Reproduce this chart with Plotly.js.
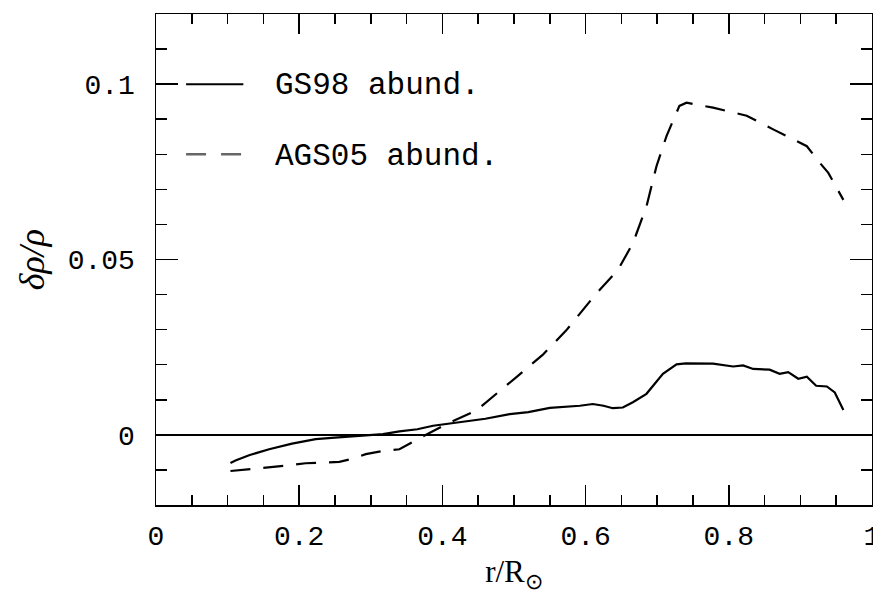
<!DOCTYPE html>
<html><head><meta charset="utf-8">
<script src="https://cdn.plot.ly/plotly-3.0.1.min.js"></script>
<style>html,body{margin:0;padding:0;background:#fff}#chart{width:873px;height:597px}</style>
</head><body><div id="chart"></div>
<script>
const gs98_r = [0.104,0.111,0.130,0.149,0.158,0.190,0.223,0.250,0.270,0.293,0.317,0.340,0.365,0.387,0.410,0.433,0.460,0.494,0.520,0.550,0.570,0.592,0.610,0.625,0.638,0.652,0.666,0.685,0.708,0.727,0.740,0.750,0.778,0.806,0.820,0.834,0.857,0.871,0.883,0.897,0.909,0.922,0.937,0.948,0.960];
const gs98_d = [-0.0080,-0.0073,-0.0058,-0.0046,-0.0041,-0.0025,-0.0012,-0.0008,-0.0005,-0.0003,0.0002,0.0010,0.0016,0.0026,0.0032,0.0038,0.0046,0.0059,0.0065,0.0077,0.0080,0.0083,0.0088,0.0083,0.0076,0.0078,0.0093,0.0117,0.0174,0.0201,0.0204,0.0204,0.0203,0.0195,0.0198,0.0188,0.0186,0.0174,0.0179,0.0160,0.0166,0.0140,0.0138,0.0121,0.0071];
const ags05_r = [0.104,0.120,0.140,0.162,0.185,0.209,0.235,0.256,0.275,0.293,0.316,0.340,0.363,0.387,0.410,0.447,0.484,0.503,0.540,0.573,0.615,0.645,0.666,0.685,0.699,0.713,0.731,0.741,0.778,0.825,0.862,0.909,0.927,0.939,0.960];
const ags05_d = [-0.0103,-0.0100,-0.0096,-0.0092,-0.0087,-0.0081,-0.0079,-0.0077,-0.0068,-0.0055,-0.0046,-0.0041,-0.0015,0.0011,0.0035,0.0069,0.0131,0.0164,0.0228,0.0298,0.0403,0.0470,0.0546,0.0651,0.0766,0.0852,0.0938,0.0947,0.0933,0.0910,0.0871,0.0823,0.0776,0.0747,0.0670];
const seriesNames = ["GS98 abund.","AGS05 abund."];
const xTickVals = [0,0.2,0.4,0.6,0.8,1];
const xTickText = ["0","0.2","0.4","0.6","0.8","1"];
const yTickVals = [0,0.05,0.1];
const yTickText = ["0","0.05","0.1"];

const mono = "Liberation Mono, Courier New, monospace";
const traces = [
  {x: gs98_r, y: gs98_d, mode:"lines", name: seriesNames[0], line:{color:"#000", width:2.2}, showlegend:false},
  {x: ags05_r, y: ags05_d, mode:"lines", name: seriesNames[1], line:{color:"#000", width:2.2, dash:"20px,13px"}, showlegend:false}
];
const layout = {
  width:873, height:597,
  margin:{l:156, r:1, t:14, b:92},
  paper_bgcolor:"#fff", plot_bgcolor:"#fff",
  xaxis:{range:[0,1], tickmode:"array", tickvals:xTickVals, ticktext:xTickText,
    ticks:"inside", ticklen:20, tickwidth:1.5, tickcolor:"#000", mirror:"allticks",
    showline:true, linecolor:"#000", linewidth:1.5, showgrid:false, zeroline:false,
    ticklabeloverflow:"allow",
    minor:{dtick:0.05, ticks:"inside", ticklen:10, tickwidth:1.5, tickcolor:"#000", showgrid:false},
    tickfont:{family:mono, size:28, color:"#000"}, ticklabelstandoff:5,
    title:{text:"r/R<sub>⊙</sub>", font:{family:"Liberation Serif, serif", size:31, color:"#000"}, standoff:8}},
  yaxis:{range:[-0.02,0.12], tickmode:"array", tickvals:yTickVals, ticktext:yTickText,
    ticks:"inside", ticklen:22, tickwidth:1.5, tickcolor:"#000", mirror:"allticks",
    showline:true, linecolor:"#000", linewidth:1.5, showgrid:false,
    zeroline:true, zerolinecolor:"#000", zerolinewidth:1.5,
    minor:{dtick:0.01, ticks:"inside", ticklen:11, tickwidth:1.5, tickcolor:"#000", showgrid:false},
    tickfont:{family:mono, size:28, color:"#000"}, ticklabelstandoff:14,
    title:{text:"<i>δρ/ρ</i>", font:{family:"Liberation Serif, serif", size:36, color:"#000"}, standoff:12}},
  shapes:[
    {type:"line", xref:"paper", yref:"y", x0:0.042, x1:0.122, y0:0.1, y1:0.1, line:{color:"#000", width:2}},
    {type:"line", xref:"paper", yref:"y", x0:0.042, x1:0.122, y0:0.08, y1:0.08, line:{color:"#666", width:2.5, dash:"20px,15px"}}
  ],
  annotations:[
    {xref:"paper", yref:"y", x:0.163, y:0.0995, xanchor:"left", yanchor:"middle", text:seriesNames[0], showarrow:false, font:{family:mono, size:31, color:"#000"}},
    {xref:"paper", yref:"y", x:0.163, y:0.0795, xanchor:"left", yanchor:"middle", text:seriesNames[1], showarrow:false, font:{family:mono, size:31, color:"#000"}}
  ]
};
Plotly.newPlot("chart", traces, layout, {displayModeBar:false, staticPlot:true});
</script></body></html>
